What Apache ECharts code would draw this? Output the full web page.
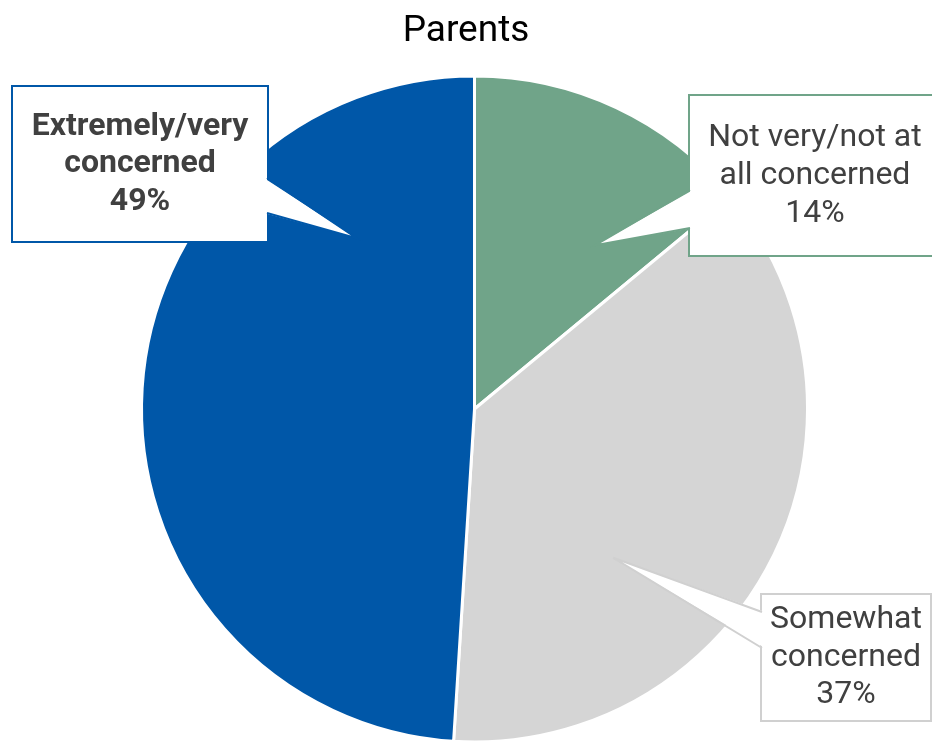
<!DOCTYPE html>
<html>
<head>
<meta charset="utf-8">
<script src="https://cdn.jsdelivr.net/npm/echarts@6/dist/echarts.min.js"></script>
<style>
  html, body { margin: 0; padding: 0; background: #fff; }
  #chart { width: 932px; height: 743px; }
</style>
</head>
<body>
<div id="chart"></div>
<script>
// Survey answers (percent of parents), clockwise from 12 o'clock
const categories = ['Not very/not at\nall concerned', 'Somewhat\nconcerned', 'Extremely/very\nconcerned'];
const shares = [14, 37, 49];
const sliceColors = ['#70A489', '#D5D5D5', '#0057A8'];
const titleText = 'Parents';

// Pie geometry
const pieCenter = [474.5, 409];
const pieRadius = 333;

// Callout boxes: centre, size, line height, border colour,
// pointer base (y range on the box side) and pointer tip (angle in degrees, fraction of radius)
const callouts = [
  { cx: 815, cy: 175.5, w: 250, h: 159, lh: 38,   bold: false, border: '#70A489', side: 'left',  base: [190, 228], tipAngle: 53.6,  tipR: 0.611 },
  { cx: 846, cy: 657.5, w: 168, h: 125, lh: 37.5, bold: false, border: '#D0D0D0', side: 'left',  base: [612, 648], tipAngle: -47,   tipR: 0.611 },
  { cx: 140, cy: 164,   w: 254, h: 154, lh: 37.5, bold: true,  border: '#0057A8', side: 'right', base: [178, 213], tipAngle: 124.6, tipR: 0.623 }
];

const chart = echarts.init(document.getElementById('chart'), null, { renderer: 'canvas' });

const pieData = categories.map((name, i) => {
  const c = callouts[i];
  const pv = (c.h - 3 * c.lh) / 2;
  return {
    name: name,
    value: shares[i],
    itemStyle: { color: sliceColors[i] },
    label: {
      fontWeight: c.bold ? 'bold' : 'normal',
      lineHeight: c.lh,
      width: c.w - 4,
      padding: [pv + 3, 2, pv - 3, 2],
      borderColor: c.border
    }
  };
});

// Pointer wedges joining each callout box to its slice
const pointers = [];
callouts.forEach((c) => {
  const a = c.tipAngle * Math.PI / 180;
  const tip = [pieCenter[0] + pieRadius * c.tipR * Math.cos(a), pieCenter[1] - pieRadius * c.tipR * Math.sin(a)];
  const edgeX = c.side === 'left' ? c.cx - c.w / 2 : c.cx + c.w / 2;
  const inset = c.side === 'left' ? 3 : -3;
  pointers.push({
    type: 'polygon', z: 10, silent: true,
    shape: { points: [[edgeX + inset, c.base[0]], tip, [edgeX + inset, c.base[1]]] },
    style: { fill: '#ffffff', stroke: null }
  });
  pointers.push({
    type: 'polyline', z: 11, silent: true,
    shape: { points: [[edgeX, c.base[0]], tip, [edgeX, c.base[1]]] },
    style: { fill: null, stroke: c.border, lineWidth: 2 }
  });
});

chart.setOption({
  animation: false,
  backgroundColor: '#ffffff',
  title: {
    text: titleText,
    left: 'center',
    top: 8,
    textStyle: { fontFamily: 'Roboto', fontSize: 37, fontWeight: 'normal', color: '#000000' }
  },
  series: [{
    type: 'pie',
    center: pieCenter,
    radius: pieRadius,
    startAngle: 90,
    clockwise: true,
    avoidLabelOverlap: false,
    minShowLabelAngle: 0,
    itemStyle: { borderColor: '#ffffff', borderWidth: 3 },
    emphasis: { disabled: true },
    label: {
      show: true,
      position: 'outside',
      formatter: (p) => p.name + '\n' + p.value + '%',
      fontFamily: 'Roboto',
      fontSize: 32,
      color: '#404040',
      align: 'center',
      backgroundColor: '#ffffff',
      borderWidth: 2
    },
    labelLine: { show: false },
    labelLayout: (p) => {
      const c = callouts[p.dataIndex];
      return { x: c.cx, y: c.cy, align: 'center', verticalAlign: 'middle' };
    },
    data: pieData
  }],
  graphic: pointers
});
</script>
</body>
</html>
